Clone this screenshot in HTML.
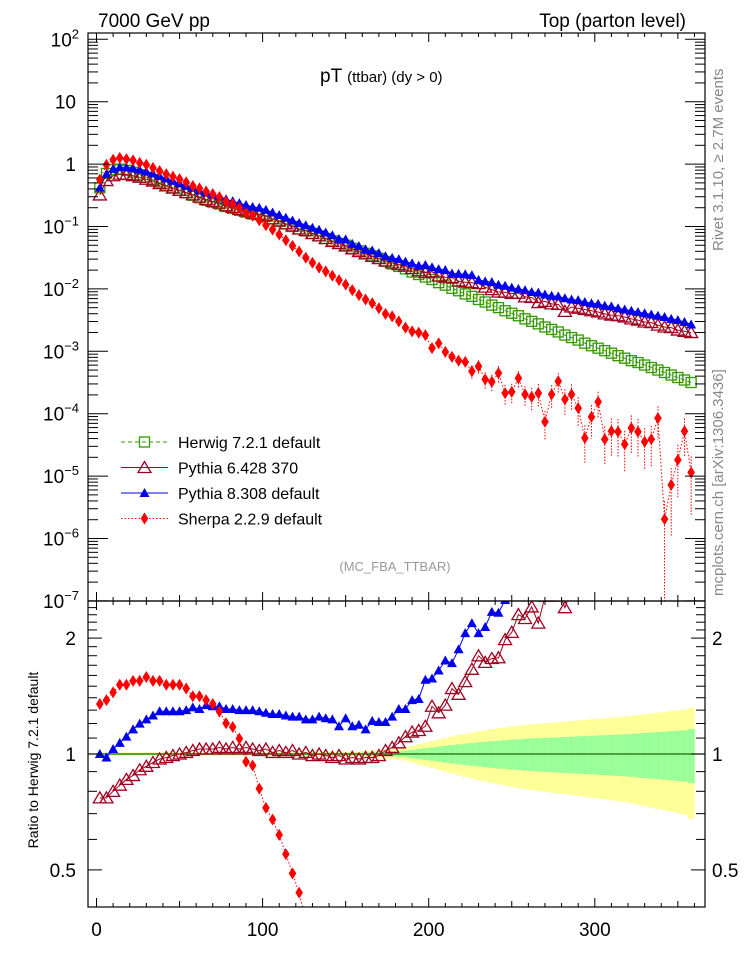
<!DOCTYPE html>
<html><head><meta charset="utf-8"><style>
html,body{margin:0;padding:0;background:#fff;width:746px;height:972px;overflow:hidden;}
svg{display:block;font-family:"Liberation Sans",Arial,sans-serif;}
</style></head><body>
<svg id="chart" width="746" height="972" viewBox="0 0 746 972">
<defs>
<clipPath id="clipMain"><rect x="88" y="33" width="617" height="568"/></clipPath>
<clipPath id="clipRatio"><rect x="88" y="601" width="617" height="306"/></clipPath>
</defs>
<g id="bands" clip-path="url(#clipRatio)"></g>
<g id="ratioLayer" clip-path="url(#clipRatio)"></g>
<g id="mainLayer" clip-path="url(#clipMain)"></g>
<g id="axes"></g>
<text x="98" y="27" font-size="19">7000 GeV pp</text>
<text x="686" y="27" font-size="19" text-anchor="end">Top (parton level)</text>
<text x="320" y="82" font-size="19">pT <tspan font-size="15">(ttbar) (dy &gt; 0)</tspan></text>
<text x="395" y="571" font-size="13" fill="#999" text-anchor="middle">(MC_FBA_TTBAR)</text>
<text transform="translate(723,251) rotate(-90)" font-size="15" fill="#888">Rivet 3.1.10, ≥ 2.7M events</text>
<text transform="translate(723,596) rotate(-90)" font-size="15" fill="#888">mcplots.cern.ch [arXiv:1306.3436]</text>
<text transform="translate(38,760) rotate(-90)" font-size="14" text-anchor="middle">Ratio to Herwig 7.2.1 default</text>
<g id="legend"></g>
</svg>
<script>
// bin centres (GeV), 4 GeV bins
const binCenters = [2,6,10,14,18,22,26,30,34,38,42,46,50,54,58,62,66,70,74,78,82,86,90,94,98,102,106,110,114,118,122,126,130,134,138,142,146,150,154,158,162,166,170,174,178,182,186,190,194,198,202,206,210,214,218,222,226,230,234,238,242,246,250,254,258,262,266,270,274,278,282,286,290,294,298,302,306,310,314,318,322,326,330,334,338,342,346,350,354,358];
// log10 of dsigma/dpT
const herwigLog = [-0.38,-0.15,-0.09,-0.08,-0.10,-0.13,-0.17,-0.21,-0.25,-0.30,-0.34,-0.38,-0.42,-0.46,-0.50,-0.54,-0.58,-0.61,-0.64,-0.68,-0.71,-0.74,-0.77,-0.80,-0.81,-0.84,-0.88,-0.92,-0.96,-1.00,-1.04,-1.07,-1.11,-1.15,-1.19,-1.23,-1.27,-1.30,-1.35,-1.39,-1.43,-1.47,-1.51,-1.56,-1.60,-1.64,-1.68,-1.73,-1.77,-1.81,-1.85,-1.90,-1.94,-1.99,-2.03,-2.08,-2.12,-2.17,-2.21,-2.26,-2.30,-2.35,-2.39,-2.43,-2.48,-2.52,-2.56,-2.61,-2.65,-2.69,-2.74,-2.78,-2.82,-2.87,-2.91,-2.95,-2.99,-3.03,-3.07,-3.11,-3.15,-3.18,-3.22,-3.26,-3.30,-3.34,-3.38,-3.42,-3.46,-3.50];
const pythia6Log = [-0.494,-0.264,-0.187,-0.161,-0.166,-0.186,-0.211,-0.242,-0.272,-0.313,-0.349,-0.384,-0.42,-0.456,-0.491,-0.527,-0.567,-0.597,-0.623,-0.667,-0.693,-0.727,-0.753,-0.787,-0.801,-0.827,-0.876,-0.911,-0.956,-0.991,-1.04,-1.066,-1.114,-1.15,-1.194,-1.239,-1.274,-1.313,-1.359,-1.403,-1.439,-1.479,-1.514,-1.551,-1.583,-1.611,-1.635,-1.673,-1.709,-1.738,-1.726,-1.793,-1.813,-1.82,-1.875,-1.892,-1.90,-1.915,-1.972,-2.012,-2.05,-2.053,-2.074,-2.068,-2.128,-2.138,-2.22,-2.20,-2.24,-2.25,-2.36,-2.29,-2.31,-2.33,-2.35,-2.37,-2.40,-2.42,-2.43,-2.45,-2.48,-2.50,-2.53,-2.54,-2.58,-2.61,-2.62,-2.66,-2.68,-2.70];
const pythia8Log = [-0.38,-0.159,-0.077,-0.051,-0.055,-0.066,-0.091,-0.12,-0.15,-0.189,-0.229,-0.269,-0.309,-0.346,-0.379,-0.423,-0.453,-0.486,-0.516,-0.563,-0.593,-0.626,-0.656,-0.686,-0.699,-0.733,-0.776,-0.816,-0.86,-0.903,-0.943,-0.98,-1.02,-1.053,-1.097,-1.14,-1.198,-1.207,-1.278,-1.314,-1.366,-1.384,-1.427,-1.477,-1.503,-1.523,-1.563,-1.59,-1.627,-1.617,-1.654,-1.683,-1.697,-1.754,-1.758,-1.766,-1.78,-1.856,-1.88,-1.891,-1.933,-1.95,-1.98,-2.00,-2.02,-2.05,-2.06,-2.09,-2.11,-2.12,-2.15,-2.17,-2.18,-2.21,-2.23,-2.24,-2.27,-2.28,-2.31,-2.33,-2.35,-2.37,-2.39,-2.41,-2.43,-2.45,-2.48,-2.50,-2.53,-2.57];
const sherpaLog = [-0.25,-0.01,0.07,0.10,0.08,0.06,0.02,-0.01,-0.06,-0.11,-0.16,-0.20,-0.24,-0.29,-0.35,-0.39,-0.44,-0.48,-0.53,-0.60,-0.64,-0.70,-0.79,-0.83,-0.90,-0.98,-1.05,-1.13,-1.22,-1.31,-1.40,-1.50,-1.58,-1.66,-1.72,-1.79,-1.86,-1.93,-2.02,-2.10,-2.17,-2.23,-2.31,-2.40,-2.44,-2.52,-2.62,-2.68,-2.70,-2.74,-2.95,-2.87,-3.01,-3.09,-3.15,-3.17,-3.32,-3.24,-3.45,-3.49,-3.35,-3.67,-3.65,-3.43,-3.69,-3.73,-3.67,-4.13,-3.69,-3.48,-3.77,-3.69,-3.91,-4.39,-4.05,-3.81,-4.41,-4.28,-4.29,-4.49,-4.23,-4.29,-4.45,-4.41,-4.07,-5.69,-5.14,-4.74,-4.28,-4.94];
// relative uncertainties
const herwigRelErr = [0.005,0.005,0.005,0.005,0.005,0.005,0.005,0.005,0.005,0.005,0.005,0.005,0.005,0.005,0.005,0.005,0.005,0.005,0.005,0.005,0.005,0.005,0.005,0.005,0.005,0.005,0.005,0.005,0.005,0.005,0.007,0.007,0.007,0.007,0.007,0.007,0.007,0.007,0.007,0.007,0.010,0.011,0.012,0.013,0.014,0.016,0.02,0.025,0.03,0.035,0.04,0.045,0.05,0.055,0.06,0.064,0.068,0.072,0.076,0.08,0.083,0.086,0.089,0.092,0.095,0.097,0.099,0.101,0.103,0.105,0.107,0.109,0.111,0.113,0.115,0.117,0.119,0.121,0.123,0.125,0.128,0.131,0.134,0.137,0.14,0.143,0.146,0.149,0.152,0.16];
const sherpaRelErr = [0,0,0,0,0,0,0,0,0,0,0,0,0,0,0,0,0,0,0,0,0,0,0,0,0,0,0,0,0,0,0,0,0,0,0,0,0,0,0,0,0.05,0.05,0.06,0.06,0.07,0.08,0.1,0.1,0.12,0.12,0.15,0.15,0.18,0.18,0.2,0.2,0.25,0.25,0.3,0.3,0.3,0.35,0.35,0.3,0.35,0.4,0.4,0.5,0.4,0.35,0.45,0.45,0.5,0.6,0.55,0.45,0.6,0.6,0.6,0.65,0.6,0.6,0.65,0.65,0.55,0.95,0.85,0.75,0.6,0.8];
const xTicks = [0,100,200,300];
const mainYTicks = [2,1,0,-1,-2,-3,-4,-5,-6,-7];
const ratioYTicks = [0.5,1,2];

const NS='http://www.w3.org/2000/svg';
const xS = v => 96.5 + v*1.661;
const yM = lg => 39.3 + (2-lg)*62.4;
const yR = r => 754 - 385*Math.log10(r);
const clampY = (y,a,b) => Math.min(Math.max(y,a),b);
function mk(tag, attrs, parent){const e=document.createElementNS(NS,tag);for(const k in attrs)e.setAttribute(k,attrs[k]);parent.appendChild(e);return e;}

const mainL=document.getElementById('mainLayer');
const ratioL=document.getElementById('ratioLayer');
const bandsL=document.getElementById('bands');
const axesL=document.getElementById('axes');
const legendL=document.getElementById('legend');

function marker(type,x,y,parent,color){
  let e;
  if(type==='square'){e=mk('rect',{x:x-5,y:y-5,width:10,height:10,fill:'none',stroke:color,'stroke-width':1.3},parent);}
  else if(type==='otri'){e=mk('polygon',{points:`${x},${y-6} ${x-6.5},${y+5} ${x+6.5},${y+5}`,fill:'none',stroke:color,'stroke-width':1.3},parent);}
  else if(type==='ftri'){e=mk('polygon',{points:`${x},${y-5} ${x-5},${y+4} ${x+5},${y+4}`,fill:color},parent);}
  else {e=mk('polygon',{points:`${x},${y-6} ${x-3.8},${y} ${x},${y+6} ${x+3.8},${y}`,fill:color},parent);}
  return e;
}
const series=[
 {name:'herwig',vals:herwigLog,color:'#339900',marker:'square',dash:'4,3'},
 {name:'pythia6',vals:pythia6Log,color:'#a00020',marker:'otri',dash:''},
 {name:'pythia8',vals:pythia8Log,color:'#0000ee',marker:'ftri',dash:''},
 {name:'sherpa',vals:sherpaLog,color:'#ff0000',marker:'diamond',dash:'1.5,2'}
];
binCenters.forEach((c,i)=>{
  const x0=xS(c-2),x1=xS(c+2),e=herwigRelErr[i];
  const y=mk('rect',{x:x0,y:yR(1+2*e),width:x1-x0+0.3,height:yR(1-2*e)-yR(1+2*e),fill:'#ffff99'},bandsL);
  
  
  const g=mk('rect',{x:x0,y:yR(1+e),width:x1-x0+0.3,height:yR(1-e)-yR(1+e),fill:'#99ff99'},bandsL);
  
  
});
const refLine=mk('line',{x1:88,x2:705,y1:yR(1),y2:yR(1),stroke:'#226600','stroke-width':1.2},bandsL);



series.forEach(s=>{
  const pts=binCenters.map((c,i)=>`${xS(c).toFixed(1)},${clampY(yM(s.vals[i]),25,610).toFixed(1)}`).join(' ');
  const pl=mk('polyline',{points:pts,fill:'none',stroke:s.color,'stroke-width':1,'stroke-dasharray':s.dash},mainL);
  
  
  if(s.name==='sherpa'){
    binCenters.forEach((c,i)=>{const e=sherpaRelErr[i];if(!e)return;
      const lo=Math.max(1-e,0.02);
      const eb=mk('line',{x1:xS(c),x2:xS(c),y1:clampY(yM(s.vals[i]+Math.log10(1+e)),25,610),y2:clampY(yM(s.vals[i]+Math.log10(lo)),25,610),stroke:s.color,'stroke-width':1,'stroke-dasharray':'1.5,1.5'},mainL);
      
      
    });
  }
  binCenters.forEach((c,i)=>{
    const ym=yM(s.vals[i]); if(ym<25||ym>610) return;
    const m=marker(s.marker,xS(c),ym,mainL,s.color);
    
    
  });
  if(s.name==='herwig') return;
  const rpts=binCenters.map((c,i)=>`${xS(c).toFixed(1)},${clampY(yR(Math.pow(10,s.vals[i]-herwigLog[i])),590,920).toFixed(1)}`).join(' ');
  const rl=mk('polyline',{points:rpts,fill:'none',stroke:s.color,'stroke-width':1,'stroke-dasharray':s.dash},ratioL);
  
  
  binCenters.forEach((c,i)=>{
    const yr=yR(Math.pow(10,s.vals[i]-herwigLog[i])); if(yr<590||yr>920) return;
    const m=marker(s.marker,xS(c),yr,ratioL,s.color);
    
    
  });
});

const f1=mk('rect',{x:88,y:33,width:617,height:568,fill:'none',stroke:'#000','stroke-width':1.2},axesL);


const f2=mk('rect',{x:88,y:601,width:617,height:306,fill:'none',stroke:'#000','stroke-width':1.2},axesL);


function tick(x1,y1,x2,y2){mk('line',{x1,y1,x2,y2,stroke:'#000','stroke-width':1},axesL);}
for(let v=0;v<=360;v+=10){
  const x=xS(v),len=(v%100===0)?9:(v%50===0?6:4);
  [33,601].forEach(yt=>tick(x,yt,x,yt+len));
  [601,907].forEach(yb=>tick(x,yb,x,yb-len));
}
xTicks.forEach(v=>{const t=mk('text',{x:xS(v),y:936,'font-size':19,'text-anchor':'middle'},axesL);t.textContent=v;
  
  });
mainYTicks.forEach(lg=>{
  const y=yM(lg);
  tick(88,y,108,y);tick(705,y,685,y);
  for(let k=2;k<=9;k++){const yy=yM(lg+Math.log10(k));if(yy<33||yy>601)continue;tick(88,yy,98,yy);tick(705,yy,695,yy);}
  let t;
  if(lg===1){t=mk('text',{x:76,y:y+7,'font-size':19,'text-anchor':'end'},axesL);t.textContent='10';}
  else if(lg===0){t=mk('text',{x:76,y:y+7,'font-size':19,'text-anchor':'end'},axesL);t.textContent='1';}
  else{t=mk('text',{x:79,y:y+7,'font-size':19,'text-anchor':'end'},axesL);
    const a=document.createElementNS(NS,'tspan');a.textContent='10';t.appendChild(a);
    const b=document.createElementNS(NS,'tspan');b.setAttribute('dy','-8');b.setAttribute('font-size','13');b.textContent=String(lg).replace('-','−');t.appendChild(b);}
  
  
});
for(let r=0.4;r<=2.45;r+=0.1){const y=yR(r);if(y<601||y>907)continue;const maj=ratioYTicks.some(v=>Math.abs(v-r)<1e-6);
  const len=maj?14:9;tick(88,y,88+len,y);tick(705,y,705-len,y);}
ratioYTicks.forEach(r=>{const y=yR(r);
  [[76,'end'],[712,'start']].forEach(([x,a])=>{const t=mk('text',{x,y:y+7,'font-size':19,'text-anchor':a},axesL);t.textContent=r;
  
  });});

const legItems=[['Herwig 7.2.1 default',0],['Pythia 6.428 370',1],['Pythia 8.308 default',2],['Sherpa 2.2.9 default',3]];
legItems.forEach(([label,si],k)=>{
  const s=series[si],y=442+k*25.5;
  const g=mk('g',{},legendL);
  
  
  mk('line',{x1:121,x2:168,y1:y,y2:y,stroke:s.color,'stroke-width':1,'stroke-dasharray':s.dash},g);
  marker(s.marker,144.5,y,g,s.color);
  const t=mk('text',{x:178,y:y+6,'font-size':16},g);t.textContent=label;
});
</script>
</body></html>
